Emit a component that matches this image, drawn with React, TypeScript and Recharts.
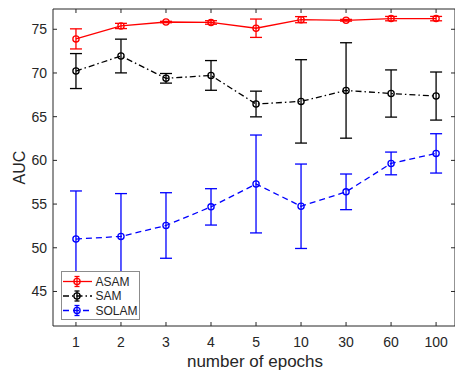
import React from 'react';
import { LineChart, Line, XAxis, YAxis, ErrorBar, Legend, Label } from 'recharts';

const categories = ['1', '2', '3', '4', '5', '10', '30', '60', '100'];
const asam = [73.9, 75.38, 75.83, 75.78, 75.12, 76.1, 76.03, 76.22, 76.22];
const asamErr = [1.15, 0.3, 0.08, 0.2, 1.05, 0.35, 0.1, 0.25, 0.25];
const sam = [70.22, 71.94, 69.39, 69.72, 66.45, 66.75, 68.0, 67.65, 67.36];
const samErr = [2.0, 1.93, 0.55, 1.7, 1.47, 4.77, 5.46, 2.7, 2.75];
const solam = [51.0, 51.3, 52.55, 54.68, 57.3, 54.75, 56.4, 59.65, 60.8];
const solamErr = [5.5, 4.9, 3.75, 2.08, 5.6, 4.83, 2.04, 1.3, 2.25];
const yTicks = [45, 50, 55, 60, 65, 70, 75];
const seriesNames = ['ASAM', 'SAM', 'SOLAM'];

const data = categories.map((c, i) => ({
  x: i + 1,
  asam: asam[i],
  asamErr: asamErr[i],
  sam: sam[i],
  samErr: samErr[i],
  solam: solam[i],
  solamErr: solamErr[i],
}));
const xTicks = categories.map((_, i) => i + 1);

const styles = [
  { key: 'asam', color: '#ff0000', dash: undefined as string | undefined },
  { key: 'sam', color: '#000000', dash: '6 3 1.5 3' },
  { key: 'solam', color: '#0000ff', dash: '6 4' },
];

const FONT = '"Liberation Sans", Arial, Helvetica, sans-serif';
const TXT = '#262626';
const X_DOMAIN: [number, number] = [0.49, 9.42];
const Y_DOMAIN: [number, number] = [41.05, 77.32];
const SW = 1.3;

const makeDot = (name: string, color: string) => (p: any) => (
  <circle key={`${name}-${p.index}`} cx={p.cx} cy={p.cy} r={3.1} fill="none" stroke={color} strokeWidth={SW} />
);

const Empty = () => <g />;

const LegendBox = () => (
  <div style={{ width: 77, height: 47, border: '1px solid #8c8c8c', background: '#fff' }}>
    <svg width={77} height={47} style={{ display: 'block' }}>
      {seriesNames.map((n, i) => {
        const s = styles[i];
        const y = 9.5 + i * 14.5;
        return (
          <g key={n}>
            <line x1={1} x2={30} y1={y} y2={y} stroke={s.color} strokeWidth={SW} strokeDasharray={s.dash} />
            <line x1={15} x2={15} y1={y - 5} y2={y + 5} stroke={s.color} strokeWidth={SW} />
            <line x1={12.5} x2={17.5} y1={y - 5} y2={y - 5} stroke={s.color} strokeWidth={SW} />
            <line x1={12.5} x2={17.5} y1={y + 5} y2={y + 5} stroke={s.color} strokeWidth={SW} />
            <circle cx={15} cy={y} r={3.1} fill="none" stroke={s.color} strokeWidth={SW} />
            <text x={33.5} y={y} dominantBaseline="central" fontSize={12} fill={TXT} fontFamily={FONT}>
              {n}
            </text>
          </g>
        );
      })}
    </svg>
  </div>
);

export default function App() {
  return (
    <div style={{ position: 'absolute', left: 0, top: 0, width: 455, height: 376, background: '#fff' }}>
      <LineChart
        width={455}
        height={376}
        data={data}
        margin={{ top: 9, right: 0, left: 0, bottom: 0 }}
        style={{ fontFamily: FONT }}
      >
        {/* inward tick marks & box */}
        <XAxis
          xAxisId="bt"
          type="number"
          dataKey="x"
          orientation="bottom"
          mirror
          height={1}
          domain={X_DOMAIN}
          allowDataOverflow
          ticks={xTicks}
          tickSize={4}
          tick={Empty}
          axisLine={false}
          tickLine={{ stroke: TXT }}
        />
        <XAxis
          xAxisId="tp"
          type="number"
          dataKey="x"
          orientation="top"
          mirror
          height={1}
          domain={X_DOMAIN}
          allowDataOverflow
          ticks={xTicks}
          tickSize={4}
          tick={Empty}
          axisLine={{ stroke: TXT }}
          tickLine={{ stroke: TXT }}
        />
        <YAxis
          yAxisId="lt"
          type="number"
          orientation="left"
          mirror
          width={1}
          domain={Y_DOMAIN}
          allowDataOverflow
          ticks={yTicks}
          tickSize={4}
          tick={Empty}
          axisLine={false}
          tickLine={{ stroke: TXT }}
        />
        <YAxis
          yAxisId="rt"
          type="number"
          orientation="right"
          mirror
          width={1}
          domain={Y_DOMAIN}
          allowDataOverflow
          ticks={yTicks}
          tickSize={4}
          tick={Empty}
          axisLine={{ stroke: TXT }}
          tickLine={{ stroke: TXT }}
        />
        <XAxis
          type="number"
          dataKey="x"
          domain={X_DOMAIN}
          allowDataOverflow
          ticks={xTicks}
          tickFormatter={(v: number) => categories[v - 1] ?? ''}
          height={50}
          tickLine={false}
          tickSize={0}
          tickMargin={11}
          axisLine={{ stroke: TXT }}
          tick={{ fill: TXT, fontSize: 14 }}
        >
          <Label
            content={(props: any) => {
              const vb = props.viewBox;
              return (
                <text x={vb.x + vb.width / 2 + 1} y={366.5} textAnchor="middle" fontSize={17} fill={TXT} fontFamily={FONT}>
                  number of epochs
                </text>
              );
            }}
          />
        </XAxis>
        <YAxis
          type="number"
          domain={Y_DOMAIN}
          allowDataOverflow
          ticks={yTicks}
          width={53}
          tickLine={false}
          tickSize={0}
          tickMargin={6}
          axisLine={{ stroke: TXT }}
          tick={{ fill: TXT, fontSize: 14 }}
        >
          <Label
            content={(props: any) => {
              const vb = props.viewBox;
              const cy = vb.y + vb.height / 2;
              return (
                <text x={25} y={cy} transform={`rotate(-90, 25, ${cy})`} textAnchor="middle" fontSize={16} fill={TXT} fontFamily={FONT}>
                  AUC
                </text>
              );
            }}
          />
        </YAxis>
        {styles.map((s, i) => (
          <Line
            key={s.key}
            name={seriesNames[i]}
            type="linear"
            dataKey={s.key}
            stroke={s.color}
            strokeWidth={SW}
            strokeDasharray={s.dash}
            dot={makeDot(s.key, s.color)}
            activeDot={false}
            isAnimationActive={false}
          >
            <ErrorBar dataKey={`${s.key}Err`} direction="y" width={6} stroke={s.color} strokeWidth={SW} isAnimationActive={false} />
          </Line>
        ))}
        <Legend
          layout="vertical"
          align="center"
          verticalAlign="middle"
          content={() => <LegendBox />}
          wrapperStyle={{ left: 61, top: 271, width: 79, height: 49 }}
        />
      </LineChart>
    </div>
  );
}
